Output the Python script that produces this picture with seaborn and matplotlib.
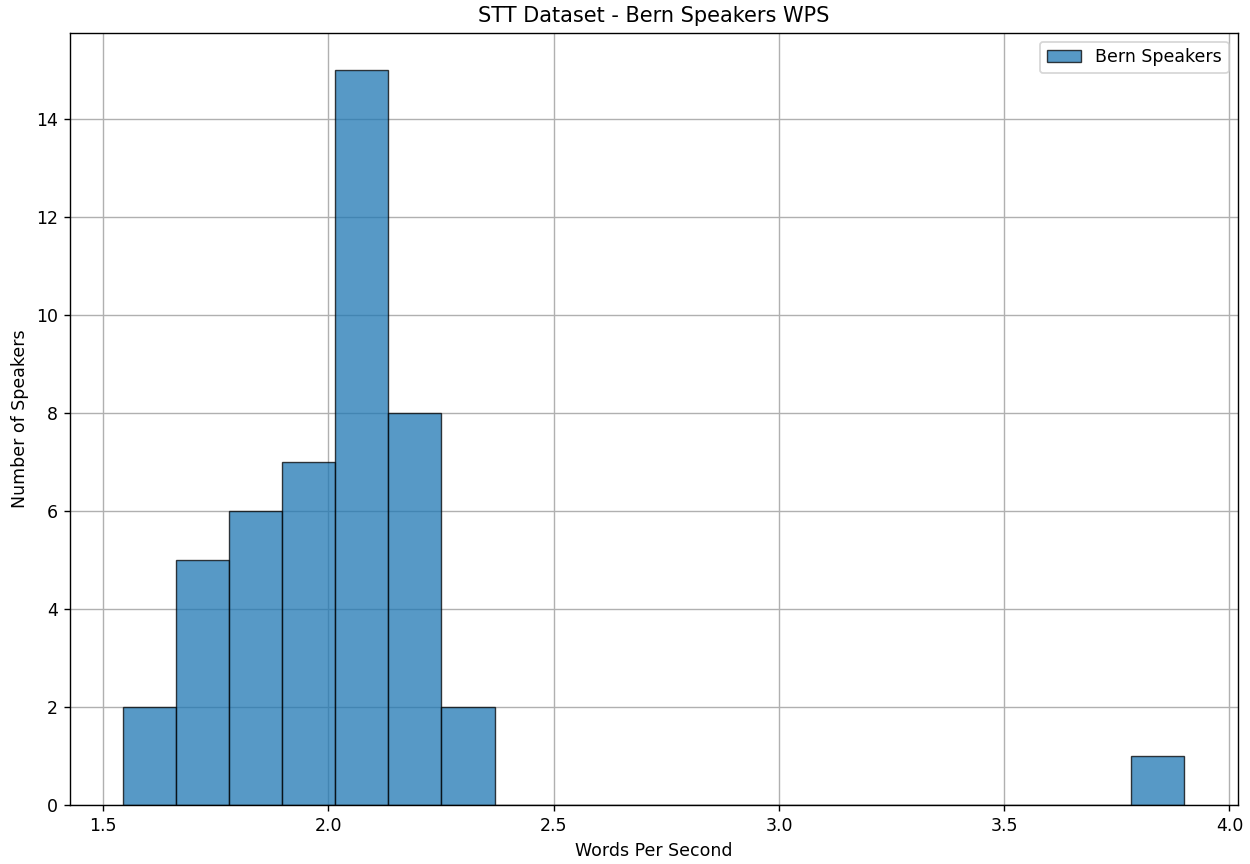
import matplotlib
matplotlib.use("Agg")
import matplotlib.pyplot as plt
import numpy as np
import pandas as pd
import seaborn as sns

# histogram: 20 equal bins between min and max WPS
wps_min = 1.544
wps_max = 3.900
n_bins = 20
bin_counts = [2, 5, 6, 7, 15, 8, 2, 0, 0, 0, 0, 0, 0, 0, 0, 0, 0, 0, 0, 1]

edges = np.linspace(wps_min, wps_max, n_bins + 1)
centers = (edges[:-1] + edges[1:]) / 2
df = pd.DataFrame({"wps": centers, "count": bin_counts})

fig = plt.figure(figsize=(10, 6.912), dpi=125)
ax = fig.add_axes([0.056, 0.068, 0.934, 0.894])

sns.histplot(data=df, x="wps", weights="count", bins=list(edges), ax=ax,
             color="#1f77b4", alpha=0.75, edgecolor=(0, 0, 0, 0.75),
             linewidth=0.8, label="Bern Speakers")

ax.grid(True)
ax.set_axisbelow(True)
ax.set_title("STT Dataset - Bern Speakers WPS")
ax.set_xlabel("Words Per Second")
ax.set_ylabel("Number of Speakers")
ax.legend(loc="upper right")

plt.savefig("out.png", dpi=125)
